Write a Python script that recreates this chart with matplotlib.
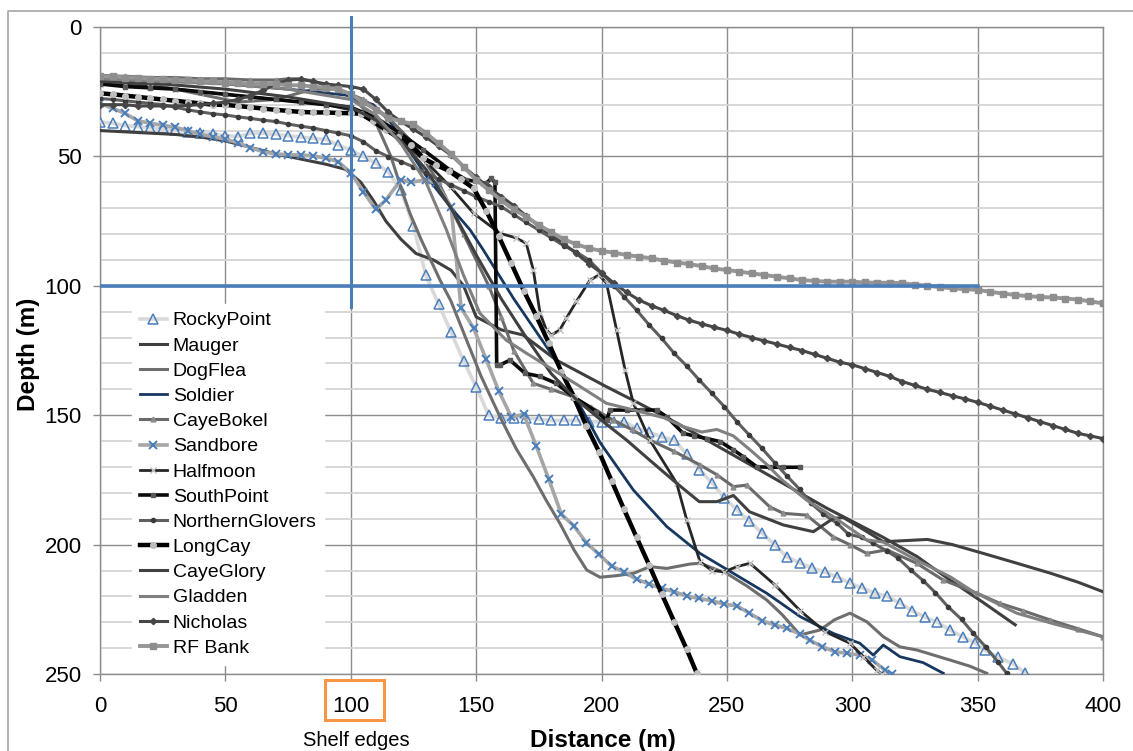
import matplotlib.pyplot as plt
from matplotlib.lines import Line2D
from matplotlib.patches import Rectangle
from matplotlib.ticker import MultipleLocator

plt.rcParams['font.family'] = ['Liberation Sans', 'DejaVu Sans']

# ---------------- data (distance m, depth m) ----------------
rocky_x = [0, 5, 10, 15, 20, 25, 30, 35, 40, 45, 50, 55, 60, 65, 70, 75, 80, 85, 90, 95,
           100, 105, 110, 115, 120, 125, 130, 135, 140, 145, 150, 155, 160, 165, 170, 175,
           180, 185, 190, 195, 200, 205, 209, 214, 219, 224, 229, 234, 239, 244, 249, 254,
           259, 264, 269, 274, 279, 284, 289, 294, 299, 304, 309, 314, 319, 324, 329, 334,
           339, 344, 349, 353, 358, 364, 369]
rocky_d = [36.6, 37.2, 38.1, 38.5, 38.9, 39.2, 39.8, 40.5, 41, 41.5, 42, 42.3, 41.1, 41.1,
           41.5, 42, 42.5, 43, 43.4, 45.6, 47.5, 50, 52.6, 56, 63, 77, 96, 107, 118, 129,
           139, 150, 151, 151, 151, 151.5, 152, 152, 152, 152.5, 152.6, 152.6, 152.6, 155,
           156.5, 158.4, 159.6, 165, 171, 176, 182, 186.6, 191, 195.5, 200, 204.8, 207, 209,
           210.6, 212.5, 214.8, 216.8, 218.7, 220, 222.6, 225.6, 228, 230, 233, 235.6, 238,
           240.8, 243.4, 246, 249.6]

mauger_x = [0, 10, 20, 30, 40, 50, 60, 70, 80, 90, 98, 104, 109, 114, 120, 126, 133, 140,
            145, 150, 160, 168.7, 182, 202, 215, 230, 250, 270, 290, 299, 312, 326, 339,
            352, 365]
mauger_d = [40, 40.5, 41, 41.5, 42.5, 44, 46.5, 49, 51, 53, 55, 60, 67, 75, 82, 87.5, 90, 94,
            100, 112, 117, 119, 128.7, 139, 145.4, 153, 164, 175, 186, 190.5, 197, 204.7,
            213.7, 222.2, 231]

dogflea_x = [0, 20, 40, 55, 70, 85, 95, 100, 110, 116, 120, 123.6, 128, 135.6, 140, 146.2,
             152, 159.5, 166, 172.8, 178, 183.4, 189, 194.1, 199.4, 206, 212.7, 219.3, 226,
             235.3, 239.3, 249.9, 258, 265.9, 272, 279.2, 287.1, 293, 299.1, 305.8, 312.4,
             319, 325.7, 339, 347, 353.6]
dogflea_d = [21, 22, 26, 29, 28, 24, 24, 26, 37, 50, 62, 72, 82, 97.8, 106, 121, 135, 150.6,
             163, 173.8, 183, 191.8, 202, 209.8, 212.6, 212, 211.1, 208.5, 209.2, 207.5,
             207.2, 211.1, 216, 221.4, 227, 234.9, 233, 229, 226.5, 229.8, 235.6, 239.5,
             240.7, 244.6, 247, 249.7]

soldier_x = [0, 25, 50, 75, 98, 109, 116, 130.3, 139.6, 147.6, 152.9, 165, 180.8, 199.4,
             212.7, 226, 239.3, 252.6, 265.9, 279.2, 292.4, 303, 308.4, 312.4, 319, 328.3,
             336.3]
soldier_d = [18.6, 20, 22, 24, 26.3, 30, 37, 57.8, 69.4, 78.4, 86.2, 105, 127.4, 160.5,
             178.9, 193, 203.4, 211.1, 218.8, 227.8, 234.3, 238.1, 242.7, 238.8, 243.3,
             245.6, 249.7]

bokel_x = [0, 10, 20, 30, 40, 50, 60, 70, 75, 80, 85, 95, 105, 115, 125, 135, 145, 155, 160,
           165, 172.8, 180, 188.8, 196, 204.7, 212, 219.3, 229, 239.3, 246, 252.6, 257.9,
           267.1, 272.5, 281.8, 292.4, 299, 305.8, 313.7, 325.7, 336.3, 349.8, 358.9, 368,
           378.9, 390, 400]
bokel_d = [19, 19, 19.5, 19.5, 20, 20, 20.5, 20.5, 20, 20, 21, 24, 28, 35, 45, 60, 80, 100,
           112, 125, 137.7, 140, 142.9, 147, 151.9, 155.5, 159.6, 164, 169.2, 173, 177.6,
           177, 185.4, 187.9, 188.6, 197, 200, 203.4, 202, 207.2, 213.7, 218.8, 222.7,
           225.5, 229.1, 232.5, 235.6]

sand_x = [0, 5, 10, 15, 20, 25, 30, 35, 40, 45, 50, 55, 60, 65, 70, 75, 80, 85, 90, 95, 100,
          105, 110, 114, 120, 124, 130, 134, 140, 144, 149, 154, 159, 164, 169, 174, 179,
          184, 189, 194, 199, 204, 209, 214, 219, 224, 229, 234, 239, 244, 249, 254, 259,
          264, 269, 274, 279, 283, 288, 293, 298, 303, 308, 313, 316]
sand_d = [29.5, 31.4, 33.4, 36.2, 37.2, 37.9, 38.8, 40, 41.5, 42.4, 43.4, 44.7, 46.6, 48.2,
          49, 49.4, 49.4, 49.8, 50.7, 52, 56.3, 63.6, 70.5, 66.8, 59, 60, 59, 60.4, 69.4,
          108.5, 116.4, 128.4, 140.6, 150.6, 149.7, 162, 174.8, 188.3, 192.8, 199.3, 203.8,
          208.3, 210.6, 213.4, 215.2, 216.9, 218.2, 219.9, 220.8, 221.7, 223, 223.7, 226.5,
          229.4, 231, 232.4, 234.5, 236.9, 239.4, 241.4, 242, 242.7, 244.6, 248.5, 250]

half_x = [0, 10, 20, 30, 40, 50, 60, 70, 80, 90, 100, 110, 120, 130, 140, 149, 159.5, 166,
          170, 172.8, 175.5, 178, 180, 183.4, 186, 190, 195.4, 199, 202, 206, 209.4, 212.7,
          219.3, 230, 234, 239.3, 244, 249, 254, 259.2, 269.2, 279.2, 289.1, 299.1, 304.4,
          309.7, 312]
half_d = [22, 22.5, 23, 24, 25, 26, 27, 28, 29, 30, 32, 37, 44, 52, 62, 72, 79.7, 81.5,
          83.6, 93.9, 110.6, 117, 119, 117, 112.5, 106, 97.8, 95.8, 99, 117, 132.5, 145.4,
          159.6, 176.3, 190.5, 206.6, 210, 210.5, 208.5, 207.2, 215.6, 225.5, 233.6, 238.1,
          243.3, 248.5, 250]

south_x = [0, 10, 20, 30, 40, 50, 60, 70, 80, 90, 100, 110, 119.6, 129, 139.6, 146, 154, 156,
           157.5, 158.2, 159.5, 163.5, 169.5, 175.5, 182, 188.8, 198, 202, 203.4, 210, 216,
           222, 226, 232.6, 237, 242, 247.3, 252.6, 256.5, 261.9, 267, 272.5, 279]
south_d = [22, 23, 23.5, 24, 25, 26, 27, 28, 29, 30, 31, 35, 41, 47.5, 55.3, 59, 60.4, 58.5,
           60, 130.6, 130.6, 128.7, 133.8, 135, 137.7, 142.9, 148.6, 151.9, 148, 148, 148,
           148, 150.6, 157, 158, 159, 160.2, 163.4, 166, 169.9, 170.1, 170.1, 170.1]

glovers_x = [0, 5, 10, 15, 20, 25, 30, 35, 40, 45, 50, 55, 60, 65, 70, 75, 80, 85, 90, 95,
             100, 105, 110, 115, 120, 125, 130, 135, 140, 145, 150, 155, 160, 165, 170, 175,
             180, 185, 190, 195, 200, 205, 209, 214, 219, 224, 229, 234, 239, 244, 249, 254,
             259, 264, 269, 274, 279, 283.5, 288.5, 294, 298.4, 303.7, 308.4, 313.7, 318.4,
             323.3, 328.3, 333.2, 338.2, 343.6, 348.3, 353.4, 358, 361.6]
glovers_d = [27.6, 28, 28.5, 29, 29.5, 30, 31, 32, 32.8, 33.5, 34, 34.7, 35.3, 36, 36.5, 37.5,
             38.3, 39, 40, 41, 42, 44.3, 47.8, 50.1, 52, 54, 56.5, 58.8, 61, 63.2, 65.6, 67.5,
             69.4, 72.5, 75.5, 78.5, 81.5, 84.5, 87, 90, 95, 100, 104.2, 109.4, 115.1, 120.3,
             126.1, 131, 136.4, 141.5, 146.7, 152.5, 157.7, 162.8, 168.3, 173.5, 178.6, 184,
             188.2, 191.8, 195.9, 197.2, 199.5, 202.4, 205.3, 209.8, 213.9, 218.6, 224,
             228.9, 234.3, 239.7, 245.2, 249.7]

long_x = [0, 5, 10, 15, 20, 25, 30, 35, 40, 45, 50, 55, 60, 65, 70, 75, 80, 85, 90, 95, 100,
          104, 109, 114, 119, 124, 129, 134, 139, 144, 149, 154, 159, 164, 169, 174, 179,
          184, 189, 194, 199, 204, 209, 214, 219, 224, 229, 234, 238]
long_d = [25.6, 26, 26.5, 27, 27.5, 28, 28.5, 29, 29.5, 30, 30.1, 30.5, 31, 31.5, 32, 32.4,
          32.8, 33, 33, 33.2, 33.3, 33.5, 36.5, 39.8, 42.5, 45.5, 50.7, 53.3, 55.5, 58.9,
          62.3, 71, 80.8, 91.3, 101.9, 111.7, 122.2, 133.2, 143.1, 154.2, 164.1, 175.3,
          186.4, 197.2, 207.9, 219, 229.8, 240.5, 249.7]

glory_x = [0, 25, 50, 75, 100, 110, 120, 130, 140, 150, 160, 170, 180, 190, 200, 210, 220,
           230, 239, 246, 252.6, 259, 272.5, 284.5, 292.4, 296.4, 303, 312.4, 320, 330, 340,
           352.3, 365, 378.9, 390, 400]
glory_d = [21, 22, 24, 27, 31, 36, 44, 55, 70, 88, 105, 120, 134, 144, 152, 159.6, 168, 176.3,
           183.4, 183.4, 181, 187.3, 192.4, 195, 189.9, 189.5, 193.3, 198.9, 198.5, 198, 200,
           203.4, 207, 211, 214.5, 218.2]

gladden_x = [0, 25, 50, 75, 100, 110, 120, 130, 138, 145, 151.5, 162, 170, 180.8, 190, 202,
             215.4, 225, 232.6, 240, 246, 252.6, 260, 265.9, 272, 281.8, 292.4, 305.8, 312.4,
             325.7, 339, 348.3, 365.6, 380, 400]
gladden_d = [20, 21, 22, 24, 28, 34, 45, 60, 78, 96, 110.6, 121, 126, 132.5, 138, 145.4, 148.6,
             151, 154.4, 156.5, 155.5, 158, 164, 169, 175, 182.8, 189.2, 198.2, 199, 206,
             212.4, 218.2, 226.5, 230.5, 235.6]

nich_x = list(range(0, 405, 5))
nich_d = [30, 30, 30, 30.5, 30.5, 30.5, 30.5, 30.3, 30, 29.5,
          29, 28, 26.5, 24.5, 22, 20.5, 20.2, 21, 22, 22.5,
          23, 24, 28, 33, 36.5, 39.5, 42.5, 46, 49.5, 54,
          58, 62, 65.5, 69, 73, 77, 80.5, 83.8, 87.5, 91.5,
          95, 99, 102.5, 105.5, 107.7, 109.5, 111.5, 113.3, 114.7, 116,
          117.2, 118.7, 120, 121.3, 122.5, 123.8, 125, 126.5, 128, 129.5,
          130.5, 132, 133.5, 135, 137, 138.5, 140, 141.2, 142.5, 143.7,
          145, 146.5, 148, 149.5, 151, 152.5, 154, 155.5, 157, 158, 159]

rf_x = list(range(0, 405, 5))
rf_d = [19, 19, 19.5, 19.5, 20, 20, 20.5, 20.5, 21, 21,
        21.5, 21.5, 22, 22, 22, 22.5, 22.5, 23, 23.5, 24,
        26, 29, 32, 35, 36.5, 37.5, 41, 45, 49, 54,
        59, 63, 67, 70.5, 73.3, 76.5, 79.3, 82, 84, 85.5,
        86.5, 87.2, 88.1, 88.7, 89.4, 90.3, 91, 91.6, 92.4, 93.3,
        93.9, 94.5, 95.2, 95.8, 96.5, 97.1, 97.8, 98.1, 98.4, 98.4,
        98.4, 98.7, 98.8, 98.8, 99, 99.5, 100, 100.5, 101, 101.3,
        101.6, 102.3, 103, 103.5, 104, 104.3, 104.5, 104.9, 105.3, 106, 106.8]

shelf_x = 100      # shelf edge distance (m)
shelf_depth = 100  # shelf edge depth (m)

# ---------------- styles ----------------
blue = '#4A7EBB'
series = [
    ('RockyPoint', rocky_x, rocky_d, dict(color='#D9D9D9', lw=2.6, marker='^', ms=6.5, mfc='none', mec=blue, mew=1.1)),
    ('Mauger', mauger_x, mauger_d, dict(color='#3F3F3F', lw=2.2)),
    ('DogFlea', dogflea_x, dogflea_d, dict(color='#6E6E6E', lw=2.2)),
    ('Soldier', soldier_x, soldier_d, dict(color='#17375E', lw=2.0)),
    ('CayeBokel', bokel_x, bokel_d, dict(color='#6A6A6A', lw=2.2, marker='^', ms=3.5, mfc='#8C8C8C', mec='#8C8C8C')),
    ('Sandbore', sand_x, sand_d, dict(color='#A6A6A6', lw=2.6, marker='x', ms=5.5, mec=blue, mew=1.4)),
    ('Halfmoon', half_x, half_d, dict(color='#262626', lw=2.0, marker='x', ms=4, mec='#BFBFBF', mew=1.0)),
    ('SouthPoint', south_x, south_d, dict(color='#0A0A0A', lw=2.6, marker='s', ms=3, mfc='#595959', mec='#595959')),
    ('NorthernGlovers', glovers_x, glovers_d, dict(color='#5F5F5F', lw=2.2, marker='o', ms=3, mfc='#3A3A3A', mec='#3A3A3A')),
    ('LongCay', long_x, long_d, dict(color='#000000', lw=3.2, marker='o', ms=4, mfc='#BFBFBF', mec='#BFBFBF')),
    ('CayeGlory', glory_x, glory_d, dict(color='#404040', lw=2.2)),
    ('Gladden', gladden_x, gladden_d, dict(color='#808080', lw=2.2)),
    ('Nicholas', nich_x, nich_d, dict(color='#474747', lw=2.2, marker='D', ms=3.2, mfc='#474747', mec='#474747')),
    ('RF Bank', rf_x, rf_d, dict(color='#969696', lw=2.8, marker='s', ms=3.8, mfc='#8E8E8E', mec='#8E8E8E')),
]

fig = plt.figure(figsize=(11.33, 7.51), dpi=100)
ax = fig.add_axes([0.0883, 0.1025, 0.8852, 0.8615])

for i, (name, xs, ds, st) in enumerate(series):
    assert len(xs) == len(ds), name
    ax.plot(xs, ds, label=name, zorder=3 + i * 0.1, solid_joinstyle='round', **st)

# shelf edge guides
ax.plot([shelf_x, shelf_x], [-4, 108], color=blue, lw=2.2, zorder=6, clip_on=False)
ax.plot([0, 350], [shelf_depth, shelf_depth], color=blue, lw=2.6, zorder=6)

ax.set_xlim(0, 400)
ax.set_ylim(250, 0)
ax.xaxis.set_major_locator(MultipleLocator(50))
ax.yaxis.set_major_locator(MultipleLocator(50))
ax.yaxis.set_minor_locator(MultipleLocator(10))
ax.grid(which='minor', axis='y', color='#D4D4D4', lw=1.3, zorder=0)
ax.grid(which='major', axis='both', color='#8C8C8C', lw=1.0, zorder=0)
ax.set_axisbelow(True)
for s in ax.spines.values():
    s.set_color('#8C8C8C')
    s.set_linewidth(1.0)
ax.tick_params(which='major', direction='out', length=5, width=1, color='#8C8C8C',
               labelsize=16)
ax.tick_params(axis='x', pad=11)
ax.tick_params(axis='y', pad=8)
ax.tick_params(which='minor', length=0)

leg = ax.legend(loc='upper left', bbox_to_anchor=(0.022, 0.587), fontsize=14,
                frameon=True, framealpha=1, fancybox=False, edgecolor='white',
                facecolor='white', labelspacing=0.39, handlelength=1.4,
                handletextpad=0.3, borderpad=0.4, numpoints=1)
leg.set_zorder(10)

fig.text(603 / 1133, 1 - 740 / 751, 'Distance (m)', ha='center', va='center',
         fontsize=17.5, fontweight='bold')
fig.text(28 / 1133, 1 - 354 / 751, 'Depth (m)', ha='center', va='center',
         fontsize=17.5, fontweight='bold', rotation=90)
fig.text(356 / 1133, 1 - 741 / 751, 'Shelf edges', ha='center', va='center', fontsize=14.5)

# orange box round the 100 tick label
fig.patches.append(Rectangle((325 / 1133, 1 - 720 / 751), 59 / 1133, 40 / 751,
                             transform=fig.transFigure, fill=False,
                             edgecolor='#F79646', lw=2.2))

# chart-area border
fig.lines.append(Line2D([8 / 1133, 8 / 1133, 1.0], [0.0, 1 - 11 / 751, 1 - 11 / 751],
                        transform=fig.transFigure, color='#A6A6A6', lw=1.2))

fig.savefig('out.png', dpi=100)
